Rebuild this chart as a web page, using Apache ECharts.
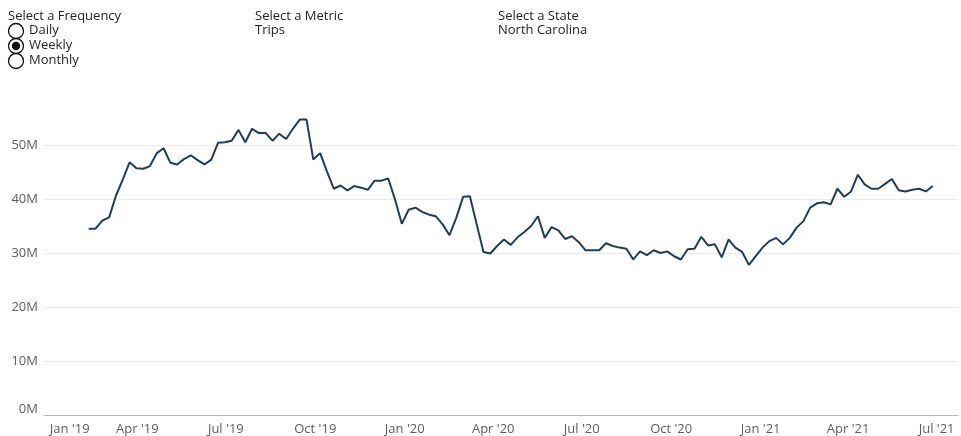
<!DOCTYPE html>
<html><head><meta charset="utf-8">
<script src="https://cdn.jsdelivr.net/npm/echarts@6/dist/echarts.min.js"></script>
<style>html,body{margin:0;padding:0;background:#fff}#c{width:961px;height:436px}</style>
</head><body><div id="c"></div>
<script>
// Weekly trips (millions), one value per week starting Sunday Feb 10 2019
const firstWeekUTC = Date.UTC(2019, 1, 10);
const tripsM = [
  34.5, 34.5, 36.0, 36.6, 40.6, 43.6, 46.8, 45.7, 45.6, 46.1,
  48.5, 49.4, 46.7, 46.4, 47.4, 48.1, 47.2, 46.4, 47.3, 50.4,
  50.5, 50.8, 52.8, 50.5, 53.0, 52.2, 52.2, 50.8, 52.1, 51.1,
  53.0, 54.7, 54.7, 47.3, 48.5, 45.1, 41.9, 42.5, 41.6, 42.4,
  42.1, 41.7, 43.4, 43.4, 43.8, 39.9, 35.4, 38.0, 38.4, 37.6,
  37.1, 36.8, 35.3, 33.3, 36.5, 40.4, 40.5, 35.3, 30.2, 29.9,
  31.3, 32.5, 31.5, 32.9, 33.9, 35.0, 36.8, 32.8, 34.8, 34.2,
  32.6, 33.1, 32.0, 30.5, 30.5, 30.5, 31.8, 31.3, 31.0, 30.8,
  28.8, 30.3, 29.6, 30.5, 30.0, 30.3, 29.4, 28.8, 30.7, 30.8,
  33.0, 31.4, 31.6, 29.2, 32.5, 31.0, 30.2, 27.8, 29.4, 31.0,
  32.2, 32.8, 31.6, 32.8, 34.7, 35.9, 38.4, 39.2, 39.4, 39.0,
  41.9, 40.4, 41.4, 44.5, 42.7, 41.9, 41.9, 42.8, 43.7, 41.6,
  41.4, 41.7, 41.9, 41.4, 42.4
];
// x tick labels (quarter starts)
const tickDates = [[2019,0,1],[2019,3,1],[2019,6,1],[2019,9,1],[2020,0,1],[2020,3,1],[2020,6,1],[2020,9,1],[2021,0,1],[2021,3,1],[2021,6,1]];
const tickLabels = ["Jan '19","Apr '19","Jul '19","Oct '19","Jan '20","Apr '20","Jul '20","Oct '20","Jan '21","Apr '21","Jul '21"];
// y axis ticks
const yMin = 0, yMax = 60e6, yStep = 10e6;

const DAY = 86400000;
const seriesData = tripsM.map((v, i) => [firstWeekUTC + i * 7 * DAY, v * 1e6]);
const tickValues = tickDates.map(d => Date.UTC(d[0], d[1], d[2]));
const labelMap = {};
tickValues.forEach((t, i) => { labelMap[t] = tickLabels[i]; });

const FONT = '"Open Sans", "Segoe UI", sans-serif';
const TXT = '#252423';
const AX = '#605e5c';
const chart = echarts.init(document.getElementById('c'), null, {renderer: 'canvas'});
const t = (x, y, s) => ({type: 'text', x: x, y: y, style: {text: s, fontSize: 13, fontFamily: FONT, fill: TXT, verticalAlign: 'middle'}});
const ring = (cy) => ({type: 'circle', shape: {cx: 16, cy: cy, r: 7.5}, style: {fill: '#fff', stroke: '#111', lineWidth: 1.3}});
chart.setOption({
  animation: false,
  backgroundColor: '#ffffff',
  grid: {left: 44, right: 3, top: 91, bottom: 20, containLabel: false},
  xAxis: {
    type: 'value',
    min: Date.UTC(2018, 11, 26),
    max: Date.UTC(2021, 6, 23),
    axisLine: {show: true, onZero: false, lineStyle: {color: '#b8b8b8', width: 1}},
    axisTick: {show: false},
    splitLine: {show: false},
    axisLabel: {
      customValues: tickValues,
      formatter: v => labelMap[v] || '',
      color: AX, fontSize: 13, fontFamily: FONT, margin: 8,
      alignMinLabel: 'left', hideOverlap: false
    }
  },
  yAxis: {
    type: 'value', min: yMin, max: yMax, interval: yStep,
    axisLine: {show: false}, axisTick: {show: false},
    axisLabel: {
      formatter: v => v === 0 ? '{z|0M}' : (v / 1e6) + 'M',
      rich: {z: {color: AX, fontSize: 13, fontFamily: FONT, padding: [0, 0, 12, 0]}},
      showMaxLabel: false,
      color: AX, fontSize: 13, fontFamily: FONT, margin: 6},
    splitLine: {show: true, showMaxLine: false, lineStyle: {color: '#ebebeb', width: 1}}
  },
  series: [{
    type: 'line', data: seriesData, symbol: 'none', showSymbol: false,
    lineStyle: {color: '#1f3d5c', width: 2}, itemStyle: {color: '#1f3d5c'}
  }],
  graphic: [
    t(8, 16, 'Select a Frequency'),
    ring(31), t(29, 30, 'Daily'),
    ring(46), {type: 'circle', shape: {cx: 16, cy: 46, r: 4.2}, style: {fill: '#111'}}, t(29, 45, 'Weekly'),
    ring(61), t(29, 60, 'Monthly'),
    t(255, 16, 'Select a Metric'), t(255, 30, 'Trips'),
    t(498, 16, 'Select a State'), t(498, 30, 'North Carolina')
  ]
});
</script>
</body></html>
